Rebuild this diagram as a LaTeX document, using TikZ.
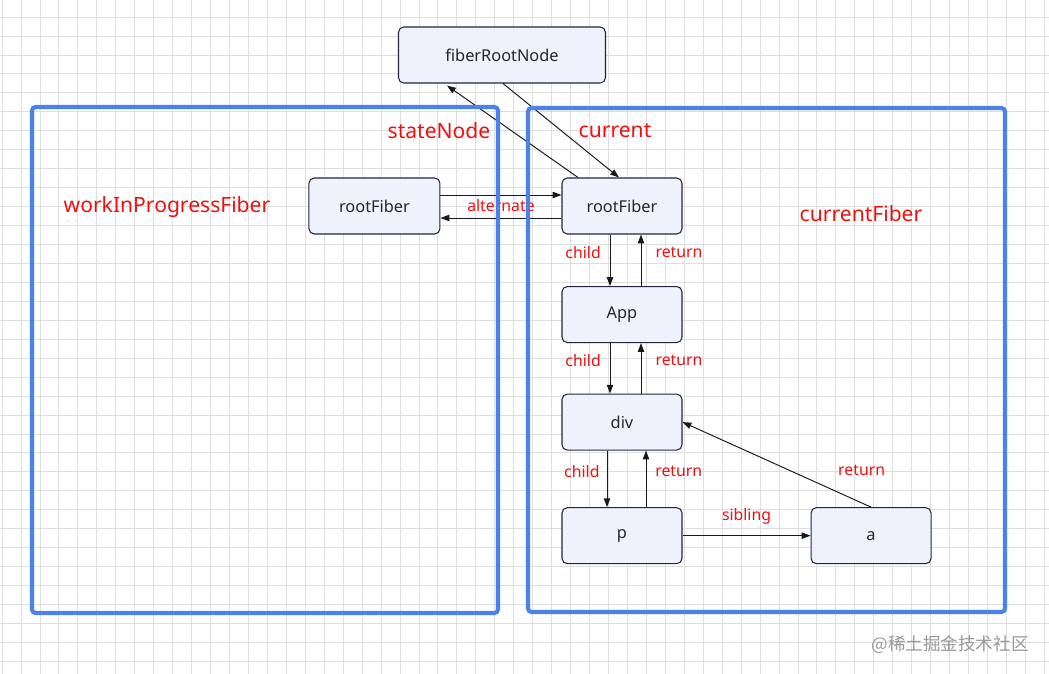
\documentclass[tikz,border=0pt]{standalone}
\usepackage{fontspec}
\setmainfont{Noto Sans}
\newfontfamily\cjkfont{Noto Sans CJK SC}
\usetikzlibrary{arrows.meta, positioning, calc}
\definecolor{frameblue}{RGB}{76,128,235}
\definecolor{boxfill}{RGB}{238,242,253}
\definecolor{boxline}{RGB}{35,38,62}
\definecolor{labelred}{RGB}{240,16,16}
\definecolor{gridgray}{RGB}{222,222,222}

\begin{document}
\begin{tikzpicture}[>={Triangle[length=5pt, width=3.6pt]},
  fiber/.style={draw=boxline, line width=0.6pt, fill=boxfill, rounded corners=3pt,
    minimum width=2.4cm, minimum height=1.12cm, font=\fontsize{9.3}{11}\selectfont, text=black!85},
  tag/.style={text=labelred, font=\fontsize{9}{11}\selectfont, inner sep=1pt},
  edgetag/.style={tag, yshift=0.15cm},
  bigtag/.style={text=labelred, font=\fontsize{12}{14}\selectfont},
  link/.style={->, line width=0.55pt, black!90},
  frame/.style={draw=frameblue, line width=2.3pt, rounded corners=2pt}]

  \fill[white] (0,0) rectangle (20.98,-13.48);
  \useasboundingbox (0,0) rectangle (20.98,-13.48);
  \foreach \i in {0,...,55}
    \draw[gridgray, line width=0.45pt] ({0.04+0.379*\i},0) -- ++(0,-13.48);
  \foreach \j in {0,...,34}
    \draw[gridgray, line width=0.45pt] (0,{-0.34-0.379*\j}) -- ++(20.98,0);

  \node[fiber] (rootCur) at (12.44,-4.12) {rootFiber};
  \node[fiber, minimum width=2.62cm, left=2.42cm of rootCur] (rootWip) {rootFiber};
  \node[fiber, minimum width=4.14cm] (frn) at (10.04,-1.10) {fiberRootNode};
  \node[fiber, below=1.03cm of rootCur] (app) {App};
  \node[fiber, below=1.01cm of app] (div) {div};
  \node[fiber, below=1.13cm of div] (p) {p};
  \node[fiber, right=2.56cm of p] (a) {a};

  \draw[link] ([xshift=0.02cm]frn.south) -- ([xshift=-0.06cm]rootCur.north);
  \draw[link] ([xshift=-0.88cm]rootCur.north) -- ([xshift=-1.1cm, yshift=-0.04cm]frn.south);
  \draw[link] ([yshift=0.22cm]rootWip.east) -- ([yshift=0.22cm]rootCur.west);
  \draw[link] ([yshift=-0.24cm]rootCur.west) -- ([yshift=-0.24cm]rootWip.east);
  \node[tag] (lblAlt) at ($(rootWip.east)!0.5!(rootCur.west)$) {alternate};

  \draw[link] ([xshift=-0.24cm]rootCur.south) -- node[edgetag, left=4pt] {child} ([xshift=-0.24cm]app.north);
  \draw[link] ([xshift=0.38cm]app.north) -- node[edgetag, right=7pt] {return} ([xshift=0.38cm]rootCur.south);
  \draw[link] ([xshift=-0.24cm]app.south) -- node[edgetag, left=4pt] {child} ([xshift=-0.24cm]div.north);
  \draw[link] ([xshift=0.38cm]div.north) -- node[edgetag, right=7pt] {return} ([xshift=0.38cm]app.south);
  \draw[link] ([xshift=-0.3cm]div.south) -- node[edgetag, left=3pt] {child} ([xshift=-0.3cm]p.north);
  \draw[link] ([xshift=0.48cm]p.north) -- node[edgetag, right=4pt] {return} ([xshift=0.48cm]div.south);
  \draw[link] (p.east) -- node[tag, above=5pt] {sibling} (a.west);
  \draw[link] (a.north) -- node[tag, pos=0.05, above=0.5cm] {return} (div.east);

  \node[bigtag] (lblState) at (8.78,-2.62) {stateNode};
  \node[bigtag] (lblCur) at (12.30,-2.62) {current};
  \node[bigtag] (lblWip) at (3.34,-4.14) {workInProgressFiber};
  \node[bigtag] (lblCurFiber) at (17.22,-4.28) {currentFiber};

  \draw[frame] (0.64,-2.14) rectangle (9.96,-12.26);
  \draw[frame] (10.56,-2.16) rectangle (20.10,-12.24);

  \node[text=black!40, font=\cjkfont\fontsize{10}{12}\selectfont] (mark) at (19.0,-12.9) {@稀土掘金技术社区};
\end{tikzpicture}
\end{document}
